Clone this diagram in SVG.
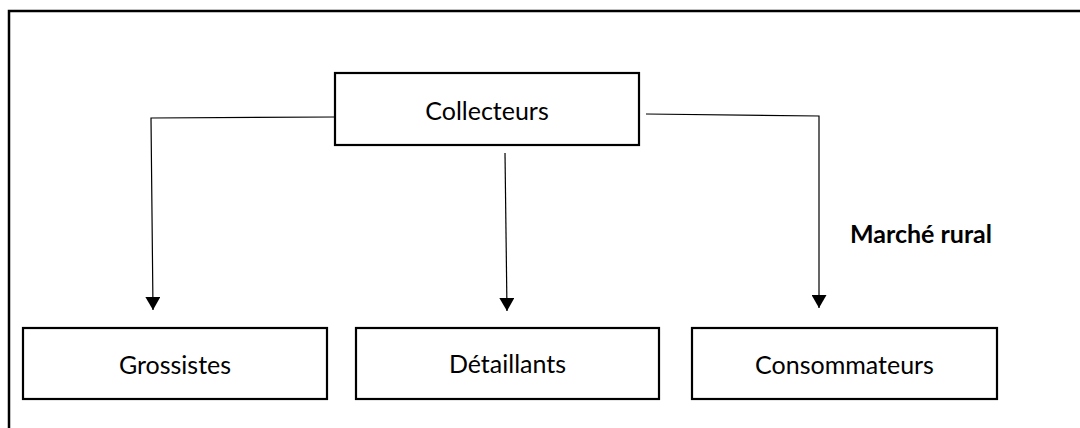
<svg xmlns="http://www.w3.org/2000/svg" width="1080" height="428" viewBox="0 0 1080 428">
  <defs>
    <style>
      .frame { fill: none; stroke: #000; stroke-width: 2.5; }
      .box { fill: #fff; stroke: #000; stroke-width: 2.2; }
      .label { font-family: Lato, "Liberation Sans", sans-serif; font-size: 25px; fill: #000; text-anchor: middle; }
      .note { font-family: Lato, "Liberation Sans", sans-serif; font-size: 25px; font-weight: bold; fill: #000; }
      .link { fill: none; stroke: #000; stroke-width: 1.2; }
    </style>
    <marker id="arrow" markerUnits="userSpaceOnUse" markerWidth="14" markerHeight="15" refX="13" refY="7.5" orient="auto">
      <path d="M0,0 L13,7.5 L0,15 Z" fill="#000"/>
    </marker>
  </defs>

  <rect width="1080" height="428" fill="#fff"/>

  <!-- outer frame (left and top edges) -->
  <path class="frame" d="M9,428 V11 H1082"/>

  <!-- connectors -->
  <g id="connectors">
    <polyline class="link" points="335,117 151,118 153,310" marker-end="url(#arrow)"/>
    <line class="link" x1="505" y1="153" x2="507" y2="311" marker-end="url(#arrow)"/>
    <polyline class="link" points="646,114 819,116 819,308" marker-end="url(#arrow)"/>
  </g>

  <g id="collecteurs">
    <rect class="box" x="335" y="73" width="304" height="72"/>
    <text class="label" x="487" y="120">Collecteurs</text>
  </g>

  <g id="grossistes">
    <rect class="box" x="23" y="328" width="304" height="71"/>
    <text class="label" x="175" y="374">Grossistes</text>
  </g>

  <g id="detaillants">
    <rect class="box" x="356" y="328" width="303" height="71"/>
    <text class="label" x="507.5" y="373">Détaillants</text>
  </g>

  <g id="consommateurs">
    <rect class="box" x="692" y="328" width="305" height="71"/>
    <text class="label" x="844.5" y="374">Consommateurs</text>
  </g>

  <text class="note" x="850" y="243">Marché rural</text>
</svg>
